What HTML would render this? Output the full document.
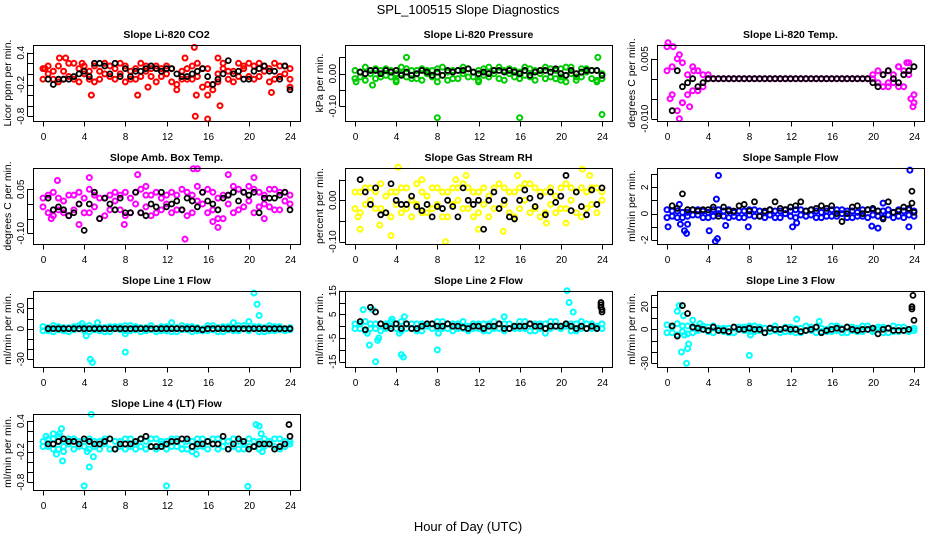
<!DOCTYPE html>
<html><head><meta charset="utf-8"><style>
html,body{margin:0;padding:0;background:#fff;}
svg{display:block;font-family:"Liberation Sans",Arial,sans-serif;}
</style></head><body>
<svg id="chart" width="936" height="540" viewBox="0 0 936 540" xmlns="http://www.w3.org/2000/svg">
<text x="468" y="14" text-anchor="middle" font-size="13">SPL_100515  Slope Diagnostics</text>
<text x="468" y="531" text-anchor="middle" font-size="13">Hour of Day (UTC)</text>
</svg>
<script>
// ---- data ----
const xTicks = [0,4,8,12,16,20,24];
const co2Col1 = [0.1,0.0,-0.1,0.15,0.05,-0.05,0.2,0.1,0.0,-0.1,0.15,0.05,0.2,-0.05,0.1,0.0,0.15,-0.1,0.1,0.2,0.05,-0.05,0.15,0.1,0.0,-0.15,-0.2,0.05,0.1,-0.1,0.2,0.1,-0.2,-0.3,0.0,0.1,-0.1,0.05,0.2,0.1,-0.05,0.15,0.2,0.05,0.1,-0.1,0.15,0.0,0.1];
const co2Col2 = [-0.1,0.15,0.05,-0.15,-0.1,0.2,-0.1,-0.15,0.15,0.05,-0.15,-0.1,0.0,0.15,-0.1,0.2,-0.15,0.05,-0.1,-0.05,0.15,0.1,-0.15,-0.05,0.15,0.1,-0.3,-0.1,-0.1,0.15,-0.05,-0.25,0.1,-0.2,-0.15,0.2,0.05,-0.15,-0.05,0.15,0.2,-0.1,-0.05,0.15,-0.15,0.2,-0.05,0.15,-0.1];
const co2Out = [[1.6,0.3],[2.2,0.3],[3.8,0.2],[4.7,-0.4],[9.2,-0.4],[10.2,-0.25],[13.8,0.3],[14.7,0.5],[14.9,-0.4],[14.8,-0.8],[16,-0.85],[16,-0.4],[17.2,-0.6],[17,0.3],[22.2,-0.35],[24,-0.25],[0.2,0.1]];
const co2Blk = [-0.1,-0.2,-0.1,-0.1,-0.1,-0.05,0.0,0.05,-0.05,0.2,0.2,0.15,0.0,0.2,-0.05,0.1,-0.05,0.05,0.05,0.1,0.15,0.1,0.05,0.1,0.1,0.0,-0.05,-0.05,0.0,0.05,0.1,-0.05,-0.2,-0.1,0.0,0.25,0.0,0.05,-0.1,-0.1,0.05,0.1,0.15,0.05,0.05,-0.1,0.15,-0.3];
const co2BlkOut = [];

const presCol1 = [0.01,-0.01,0.02,0.0,-0.015,0.01,0.015,-0.01,0.0,0.02,-0.01,0.01,-0.015,0.015,0.0,0.01,-0.01,0.02,0.005,-0.015,0.01,0.0,0.015,-0.01,0.01,-0.005,0.02,0.0,-0.015,0.01,0.015,-0.01,0.005,0.02,-0.01,0.01,0.0,-0.015,0.015,0.01,-0.01,0.02,0.0,-0.01,0.015,0.005,-0.015,0.01,0.0];
const presCol2 = [-0.015,0.005,-0.02,0.01,0.015,-0.01,-0.005,0.01,-0.02,0.0,0.015,-0.015,0.01,-0.02,0.01,-0.01,0.015,-0.005,-0.02,0.01,-0.015,0.02,-0.01,0.005,-0.02,0.015,-0.01,0.01,0.02,-0.02,0.0,0.01,-0.015,-0.005,0.015,-0.02,0.01,0.02,-0.01,-0.015,0.015,-0.005,0.02,-0.02,-0.01,0.015,0.01,-0.02,-0.015];
const presOut = [[5,0.05],[0.1,-0.025],[1.7,-0.035],[4,-0.025],[8,-0.025],[8,-0.135],[12,-0.025],[16,-0.135],[16,-0.015],[20,-0.02],[20.5,-0.025],[23.5,-0.025],[23.6,0.05],[24,-0.125]];
const presBlk = [0.005,0.0,0.01,0.01,0.0,0.01,0.005,0.01,-0.005,0.005,-0.005,0.0,0.01,0.005,-0.005,0.005,-0.005,0.01,0.005,0.01,0.01,0.015,0.005,0.0,0.005,0.0,0.01,0.01,0.005,0.01,0.005,0.0,0.01,-0.005,0.005,0.01,0.01,0.005,0.015,0.0,-0.005,0.01,0.0,0.005,0.01,0.01,0.01,-0.005];
const presBlkOut = [];

const tempCol1 = [0.008,0.003,-0.008,0.004,0.001,-0.003,0.002,-0.002,0,0,0,0,0,0,0,0,0,0,0,0,0,0,0,0,0,0,0,0,0,0,0,0,0,0,0,0,0,0,0,0,0.0,-0.001,0.001,0.002,-0.001,0.003,0.002,0.004,-0.004];
const tempCol2 = [0.002,-0.004,0.005,-0.006,-0.004,0.003,-0.003,0.001,0.001,0,0,0,0,0,0,0,0,0,0,0,0,0,0,0,0,0,0,0,0,0,0,0,0,0,0,0,0,0,0,0,0.001,0.002,-0.002,-0.001,0.001,-0.002,-0.002,0.001,-0.006];
const tempOut = [[0.1,0.009],[0.6,0.008],[1.2,0.006],[1.2,-0.01],[2.2,-0.007],[23.9,-0.007],[0.3,-0.005],[1.5,-0.006],[2.6,0.002],[3.0,-0.003],[21.5,-0.002],[22.5,0.003],[23.3,0.004],[23.7,-0.005]];
const tempBlk = [-0.008,0.002,-0.002,-0.001,0,-0.002,-0.001,0,0,0,0,0,0,0,0,0,0,0,0,0,0,0,0,0,0,0,0,0,0,0,0,0,0,0,0,0,0,0,0,-0.001,-0.002,0.001,0.002,0.0,-0.001,0.001,0.002,0.003];
const tempBlkOut = [];

const ambCol1 = [0.02,-0.03,0.04,-0.02,0.01,-0.04,0.03,0.0,-0.03,0.05,-0.01,0.02,-0.04,0.03,0.01,-0.02,0.04,-0.03,0.0,0.05,-0.01,0.03,-0.03,0.02,0.0,0.04,-0.02,0.05,-0.04,0.03,0.06,0.0,-0.03,0.04,0.02,-0.05,0.03,0.06,-0.02,0.04,0.01,0.05,-0.01,0.03,0.05,-0.02,0.04,0.01,0.03];
const ambCol2 = [-0.01,0.03,-0.04,0.02,-0.03,0.03,-0.02,0.04,0.02,-0.03,0.03,-0.05,0.02,-0.02,0.04,0.03,-0.04,0.02,0.04,-0.03,0.03,-0.04,0.04,-0.02,0.03,-0.03,0.03,-0.02,0.04,-0.03,0.01,0.04,0.05,-0.02,-0.05,0.03,0.0,-0.03,0.05,-0.01,0.06,-0.03,0.04,0.0,-0.01,0.05,-0.02,0.04,0.0];
const ambOut = [[1.4,0.08],[4.5,0.09],[9.2,0.1],[13.8,-0.12],[14.6,0.12],[15,0.12],[17,-0.08],[18,0.1],[20.5,0.09],[3.5,-0.07],[7.9,-0.07],[0.8,-0.05],[21.5,-0.05],[10,0.06],[16.5,-0.06]];
const ambBlk = [0.02,-0.02,-0.01,-0.02,-0.04,-0.03,0.0,-0.09,0.0,0.04,-0.05,0.02,0.0,-0.02,0.02,-0.03,-0.03,0.04,-0.03,-0.04,0.0,-0.01,0.04,-0.01,0.0,0.01,-0.02,0.02,0.01,-0.01,0.04,0.01,0.0,-0.02,0.02,0.03,0.04,0.01,0.04,0.03,0.04,-0.03,0.02,0.02,0.02,0.03,0.04,-0.02];
const ambBlkOut = [];

const rhCol1 = [0.02,-0.03,0.03,0.0,-0.02,0.04,0.01,-0.04,0.02,0.03,-0.02,0.0,0.04,-0.03,0.01,0.03,-0.01,0.02,-0.04,0.03,0.0,0.04,-0.02,0.02,-0.03,0.03,0.01,-0.02,0.04,-0.01,0.02,-0.04,0.03,0.0,0.04,-0.02,0.02,-0.03,0.03,0.01,-0.02,0.04,0.0,-0.03,0.03,0.02,-0.01,0.03,0.0];
const rhCol2 = [-0.02,0.02,-0.01,0.03,0.02,-0.02,-0.03,0.02,-0.01,-0.03,0.03,-0.04,-0.01,0.02,-0.03,-0.02,0.03,-0.04,0.02,-0.01,0.03,-0.02,0.03,-0.04,0.02,-0.01,-0.04,0.03,-0.02,0.03,-0.03,0.02,-0.02,0.04,-0.03,0.03,-0.04,0.02,-0.01,-0.03,0.03,-0.02,0.03,0.02,-0.04,-0.02,0.03,-0.03,0.02];
const rhOut = [[0.3,-0.04],[0.5,-0.07],[2.4,-0.06],[3.5,-0.085],[4.2,0.08],[8.8,-0.1],[10.8,0.06],[12,-0.07],[14.4,-0.075],[15.8,0.06],[18.6,-0.055],[20.5,-0.055],[22.1,0.075],[22.8,0.06],[6.5,0.05],[9.8,0.05]];
const rhBlk = [0.05,0.02,-0.01,0.03,-0.035,-0.03,0.04,0.0,-0.01,-0.01,0.01,-0.015,-0.025,-0.01,-0.04,-0.015,-0.02,0.0,-0.015,-0.04,0.03,0.0,-0.01,0.0,-0.07,0.0,0.02,-0.02,0.0,-0.04,-0.045,0.0,0.025,0.005,-0.015,0.01,-0.035,0.02,-0.005,0.01,0.06,-0.025,0.02,-0.015,-0.035,0.025,-0.01,0.03];
const rhBlkOut = [];

const flowCol1 = [0.3,-0.2,0.2,-0.3,0.1,0.3,-0.1,0.2,-0.3,0.3,0.0,-0.2,0.3,0.1,-0.3,0.2,-0.1,0.3,-0.2,0.1,0.3,-0.3,0.2,0.0,-0.2,0.3,-0.1,0.2,0.3,-0.3,0.1,0.2,-0.2,0.3,0.0,-0.3,0.2,0.1,-0.2,0.3,-0.1,0.2,-0.3,0.3,0.1,-0.2,0.2,-0.1,0.2];
const flowCol2 = [-0.3,0.2,-0.3,0.1,-0.2,-0.1,0.3,-0.3,0.1,-0.2,0.3,0.2,-0.3,-0.2,0.2,-0.3,0.3,-0.2,0.2,-0.3,-0.1,0.2,-0.3,0.3,0.2,-0.3,0.3,-0.2,-0.1,0.2,-0.3,-0.2,0.3,-0.2,0.3,0.2,-0.3,-0.2,0.3,-0.3,0.3,-0.2,0.2,-0.1,-0.3,0.3,-0.3,0.3,-0.2];
const flowOut = [[0.1,-1.0],[1.2,0.7],[1.3,-0.8],[1.7,-1.3],[1.9,-1.5],[2,-0.8],[4.1,-1.3],[4.7,-2.1],[4.9,-1.9],[4.8,1.1],[5,2.9],[5.7,-0.9],[7.9,-1.0],[12.2,-1.0],[12.6,-0.7],[19.9,-0.95],[20.5,-1.1],[23.5,-1.0],[23.6,3.3],[21,0.8]];
const flowBlk = [0.6,0.4,1.5,0.3,0.3,0.2,0.3,0.3,0.5,-0.2,0.5,0.2,0.2,0.6,0.7,0.2,0.9,-0.2,0.2,0.3,0.9,0.4,0.3,0.5,0.6,0.9,0.2,0.3,0.4,0.6,0.4,0.6,0.0,-0.6,0.0,0.5,0.6,0.0,0.3,0.4,0.2,-0.4,0.9,0.1,0.2,0.5,0.4,0.1];
const flowBlkOut = [[23.8,1.7],[23.8,0.8]];

const l1Col1 = [2,-2,3,-1,1,-3,2,0,-2,3,-1,1,-3,2,0,2,-2,3,-1,1,-2,3,0,-2,2,-3,1,3,-1,2,-2,0,3,-1,1,-3,2,-2,3,0,-1,2,-3,1,3,-2,2,0,1];
const l1Col2 = [-2,1,-3,2,-2,1,-1,3,2,-3,1,-2,1,-3,2,-1,3,-2,2,-3,1,-1,-3,2,-2,1,-3,-1,2,-3,1,-2,-2,3,-3,2,-1,1,-2,3,-2,0,2,-3,-2,2,-1,-2,-1];
const l1Out = [[3.8,5],[4.2,-7],[4.6,-30],[4.8,-33],[5.3,6],[8,-23],[8,-5],[12.5,6],[18.5,6],[20.5,35],[20.8,24],[21,13],[20,7]];
const l1Blk = [0,0,0,0,0,0,0,0,0,0,0,0,0,0,0,0,0,0,0,0,0,0,0,0,0,0,0,0,0,0,-1,0,0,0,0,0,0,0,0,0,0,0,0,0,0,0,0,0];
const l1BlkOut = [];

const l2Col1 = [1,-1,2,-1,1,-2,1,0,-1,2,-1,1,-2,1,0,1,-1,2,-1,1,-1,2,0,-1,1,-2,1,2,-1,1,-1,0,2,-1,1,-2,1,-1,2,0,-1,1,-2,1,2,-1,1,0,1];
const l2Col2 = [-1,1,-2,1,-1,1,-1,2,1,-2,1,-1,1,-2,1,-1,2,-1,1,-2,1,-1,-2,1,-1,1,-2,-1,1,-2,1,-1,-1,2,-2,1,-1,1,-1,2,-1,0,1,-2,-1,1,-1,-1,-1];
const l2Out = [[0.8,7],[1.2,-3],[1.4,-8],[1.7,7],[2.0,-15],[2.2,-6],[2.3,-5],[4.3,-3],[4.5,-12],[4.7,-13],[4.8,4],[8,-10],[8.1,-3],[14.5,4],[18.5,-3],[20.6,15],[20.8,10],[21.2,6],[3.6,3]];
const l2Blk = [2,-1.5,8,6,1,0,-1,1,-1,1,-1,-1,0,1,1,0,0,1,0,0,-0.5,-1,0,0,-1,0,0,1,-1,-1,0,0,0,1,0,0,-1,0,0,0,1,0,-1,0,-1,0,-1,7];
const l2BlkOut = [[23.9,10],[23.9,9],[23.9,8],[24,6]];

const l3Col1 = [4,-3,5,-2,3,-3,2,0,-2,3,-1,1,-3,2,0,2,-2,3,-1,1,-2,3,0,-2,2,-3,1,3,-1,2,-2,0,3,-1,1,-3,2,-2,3,0,-1,2,-3,1,3,-2,2,0,1];
const l3Col2 = [-3,2,-5,3,-4,1,-1,3,2,-3,1,-2,1,-3,2,-1,3,-2,2,-3,1,-1,-3,2,-2,1,-3,-1,2,-3,1,-2,-2,3,-3,2,-1,1,-2,3,-2,0,2,-3,-2,2,-1,-2,-1];
const l3Out = [[1.0,16],[1.2,21],[1.6,12],[1.4,-20],[1.7,-5],[2.0,-17],[2.1,-13],[1.9,-30],[8,-23],[8.1,-5],[12.6,9],[14.8,7],[2.5,8],[3.2,5]];
const l3Blk = [3,-6,21,14,2,1,0,-1,2,-1,-1,-2,2,0,0,1,0,0,-3,1,0,0,1,0,0,-2,-1,0,2,-3,-1,0,1,0,2,0,-1,0,0,1,-4,0,1,-1,-1,-1,0,8];
const l3BlkOut = [[23.9,30],[23.8,20],[23.8,18]];

const l4Col1 = [0.0,-0.1,0.05,-0.15,0.0,-0.05,0.05,-0.1,0.0,0.05,-0.1,0.0,-0.05,0.05,-0.15,0.0,0.05,-0.1,-0.05,0.05,0.0,-0.1,0.05,-0.05,0.0,-0.1,0.05,-0.05,-0.15,0.0,0.05,-0.1,0.0,-0.05,0.05,-0.1,0.0,0.05,-0.15,-0.05,0.05,-0.1,0.0,0.05,-0.05,-0.1,0.05,0.0,-0.05];
const l4Col2 = [-0.1,0.05,-0.15,0.0,-0.1,0.05,-0.15,0.0,-0.1,-0.15,0.0,-0.15,0.05,-0.15,0.0,-0.1,-0.15,0.05,-0.15,-0.1,-0.15,0.05,-0.15,0.0,-0.15,0.05,-0.1,-0.15,0.0,-0.2,-0.1,0.05,-0.15,0.05,-0.15,0.0,-0.15,-0.1,0.0,-0.15,-0.1,0.0,-0.15,-0.1,0.0,0.05,-0.15,-0.1,0.0];
const l4Out = [[0.3,0.1],[1.0,0.15],[1.3,-0.25],[1.5,0.1],[1.6,0.15],[1.8,0.25],[1.9,-0.38],[2.0,-0.2],[4.0,-0.87],[4.3,-0.2],[4.5,-0.5],[4.7,0.53],[4.9,-0.3],[12,-0.87],[19.9,-0.88],[20.7,0.33],[21,0.3],[21.2,0.15],[21.3,-0.2],[14.9,-0.25]];
const l4Blk = [-0.05,-0.05,0.0,0.05,0.0,0.0,-0.05,0.05,0.0,-0.05,-0.05,0.0,0.05,-0.15,-0.05,-0.05,-0.05,0.0,0.05,0.1,-0.1,-0.1,-0.1,-0.05,0.0,0.0,0.05,0.05,-0.1,-0.05,-0.05,0.0,-0.05,-0.05,0.1,-0.15,-0.05,0.05,0.0,-0.15,-0.1,-0.05,-0.05,-0.05,-0.15,-0.1,-0.05,0.1];
const l4BlkOut = [[23.9,0.33]];

// tick arrays
const co2Ticks = [0.4,0.2,0,-0.2,-0.4,-0.6,-0.8], co2TickLabels = [[0.4,"0.4"],[-0.2,"-0.2"],[-0.8,"-0.8"]];
const presTicks = [0.05,0,-0.05,-0.10], presTickLabels = [[0,"0.00"],[-0.10,"-0.10"]];
const tempTicks = [0.005,0,-0.005,-0.010], tempTickLabels = [[0.005,"0.005"],[-0.010,"-0.010"]];
const ambTicks = [0.05,0,-0.05,-0.10], ambTickLabels = [[0.05,"0.05"],[-0.10,"-0.10"]];
const rhTicks = [0.05,0,-0.05,-0.10], rhTickLabels = [[0,"0.00"],[-0.10,"-0.10"]];
const flowTicks = [3,2,1,0,-1,-2], flowTickLabels = [[2,"2"],[0,"0"],[-2,"-2"]];
const l1Ticks = [30,20,10,0,-10,-20,-30], l1TickLabels = [[20,"20"],[0,"0"],[-30,"-30"]];
const l2Ticks = [15,10,5,0,-5,-10,-15], l2TickLabels = [[15,"15"],[5,"5"],[-5,"-5"],[-15,"-15"]];
const l3Ticks = [30,20,10,0,-10,-20,-30], l3TickLabels = [[20,"20"],[0,"0"],[-30,"-30"]];
const l4Ticks = [0.4,0.2,0,-0.2,-0.4,-0.6,-0.8], l4TickLabels = [[0.4,"0.4"],[-0.2,"-0.2"],[-0.8,"-0.8"]];

// ---- layout ----
const panels = [
 {name:"co2",title:"Slope Li-820 CO2",ylab:"Licor ppm per min.",color:"#ff0000",col:0,row:0,c1:co2Col1,c2:co2Col2,out:co2Out,blk:co2Blk,blkOut:co2BlkOut,ticks:co2Ticks,tl:co2TickLabels,ya:[0.4,52.7],yb:[-0.8,116.3]},
 {name:"pressure",title:"Slope Li-820 Pressure",ylab:"kPa per min.",color:"#00cd00",col:1,row:0,c1:presCol1,c2:presCol2,out:presOut,blk:presBlk,blkOut:presBlkOut,ticks:presTicks,tl:presTickLabels,ya:[0,73.7],yb:[-0.10,106.3]},
 {name:"temp",title:"Slope Li-820 Temp.",ylab:"degrees C per min.",color:"#ff00ff",col:2,row:0,c1:tempCol1,c2:tempCol2,out:tempOut,blk:tempBlk,blkOut:tempBlkOut,ticks:tempTicks,tl:tempTickLabels,ya:[0.005,58.7],yb:[-0.010,118.7]},
 {name:"amb-temp",title:"Slope Amb. Box Temp.",ylab:"degrees C per min.",color:"#ff00ff",col:0,row:1,c1:ambCol1,c2:ambCol2,out:ambOut,blk:ambBlk,blkOut:ambBlkOut,ticks:ambTicks,tl:ambTickLabels,ya:[0.05,189.3],yb:[-0.10,233.3]},
 {name:"rh",title:"Slope Gas Stream RH",ylab:"percent per min.",color:"#ffff00",col:1,row:1,c1:rhCol1,c2:rhCol2,out:rhOut,blk:rhBlk,blkOut:rhBlkOut,ticks:rhTicks,tl:rhTickLabels,ya:[0,200.3],yb:[-0.10,241.7]},
 {name:"sample-flow",title:"Slope Sample Flow",ylab:"ml/min per min.",color:"#0000ff",col:2,row:1,c1:flowCol1,c2:flowCol2,out:flowOut,blk:flowBlk,blkOut:flowBlkOut,ticks:flowTicks,tl:flowTickLabels,ya:[2,187.3],yb:[-2,240]},
 {name:"line1",title:"Slope Line 1 Flow",ylab:"ml/min per min.",color:"#00ffff",col:0,row:2,c1:l1Col1,c2:l1Col2,out:l1Out,blk:l1Blk,blkOut:l1BlkOut,ticks:l1Ticks,tl:l1TickLabels,ya:[20,308.3],yb:[-30,359.3]},
 {name:"line2",title:"Slope Line 2 Flow",ylab:"ml/min per min.",color:"#00ffff",col:1,row:2,c1:l2Col1,c2:l2Col2,out:l2Out,blk:l2Blk,blkOut:l2BlkOut,ticks:l2Ticks,tl:l2TickLabels,ya:[15,290.7],yb:[-15,361.7]},
 {name:"line3",title:"Slope Line 3 Flow",ylab:"ml/min per min.",color:"#00ffff",col:2,row:2,c1:l3Col1,c2:l3Col2,out:l3Out,blk:l3Blk,blkOut:l3BlkOut,ticks:l3Ticks,tl:l3TickLabels,ya:[20,306.7],yb:[-30,363.3]},
 {name:"line4",title:"Slope Line 4 (LT) Flow",ylab:"ml/min per min.",color:"#00ffff",col:0,row:3,c1:l4Col1,c2:l4Col2,out:l4Out,blk:l4Blk,blkOut:l4BlkOut,ticks:l4Ticks,tl:l4TickLabels,ya:[0.4,421],yb:[-0.8,482.3]}
];

const NS = "http://www.w3.org/2000/svg";
const svg = document.getElementById("chart");
function mk(tag, attrs, parent){
  const e = document.createElementNS(NS, tag);
  for (const k in attrs) e.setAttribute(k, attrs[k]);
  (parent||svg).appendChild(e);
  return e;
}

panels.forEach(p => {
  const dx = p.col*312, dy = p.row*123;
  const L = 33+dx, R = 300+dx, T = 45+dy, B = 121+dy;
  const x0 = 43+dx, x24 = 290+dx;
  const xs = h => x0 + (x24-x0)*h/24;
  const ys = v => p.ya[1] + (v - p.ya[0])*(p.yb[1]-p.ya[1])/(p.yb[0]-p.ya[0]);
  const g = mk("g", {});
  
  

  const t = mk("text", {x:(L+R)/2, y:38+dy, "text-anchor":"middle", "font-size":"10.5", "font-weight":"bold"}, g);
  t.textContent = p.title;
  
  

  const yl = mk("text", {x:0, y:0, "text-anchor":"middle", "font-size":"10.5"}, g);
  yl.setAttribute("transform", `translate(${11+dx},${(T+B)/2}) rotate(-90)`);
  yl.textContent = p.ylab;
  
  

  // points: colored
  const pts = mk("g", {fill:"none", stroke:p.color, "stroke-width":"2"}, g);
  
  
  [p.c1, p.c2].forEach(arr => {
    arr.forEach((v,i) => {
      const h = i*24/(arr.length-1);
      const c = mk("circle", {cx:xs(h), cy:ys(v), r:2.5}, pts);
      
      
    });
  });
  p.out.forEach(o => {
    const c = mk("circle", {cx:xs(o[0]), cy:ys(o[1]), r:2.5}, pts);
    
    
  });
  // black points
  const bp = mk("g", {fill:"none", stroke:"#000", "stroke-width":"1.8"}, g);
  
  
  p.blk.forEach((v,i) => {
    const h = 0.5 + i*0.5;
    const c = mk("circle", {cx:xs(h), cy:ys(v), r:2.5}, bp);
    
    
  });
  p.blkOut.forEach(o => {
    const c = mk("circle", {cx:xs(o[0]), cy:ys(o[1]), r:2.5}, bp);
    
    
  });

  // box
  const box = mk("rect", {x:L+0.5, y:T+0.5, width:R-L, height:B-T, fill:"none", stroke:"#000", "stroke-width":"1"}, g);
  
  

  // x axis
  const xa = mk("g", {stroke:"#000","stroke-width":"1"}, g);
  
  
  xTicks.forEach(h => {
    const X = Math.round(xs(h))+0.5;
    mk("line", {x1:X, x2:X, y1:B+0.5, y2:B+5.5}, xa);
    const tx = mk("text", {x:X, y:B+19, "text-anchor":"middle", "font-size":"10", stroke:"none", fill:"#000"}, xa);
    tx.textContent = h;
    
    
  });
  // y axis
  const ya = mk("g", {stroke:"#000","stroke-width":"1"}, g);
  
  
  const tv = p.ticks.map(ys);
  mk("line", {x1:L-5.5, x2:L-5.5, y1:Math.min(...tv), y2:Math.max(...tv)}, ya);
  p.ticks.forEach(v => {
    const Y = Math.round(ys(v))+0.5;
    mk("line", {x1:L-5.5, x2:L+0.5, y1:Y, y2:Y}, ya);
  });
  p.tl.forEach(l => {
    const Y = ys(l[0]);
    const tx = mk("text", {x:0, y:0, transform:`translate(${L-9},${Y}) rotate(-90)`, "text-anchor":"middle", "font-size":"10", stroke:"none", fill:"#000"}, ya);
    tx.textContent = l[1];
    
    
  });
});
</script>
</body></html>
